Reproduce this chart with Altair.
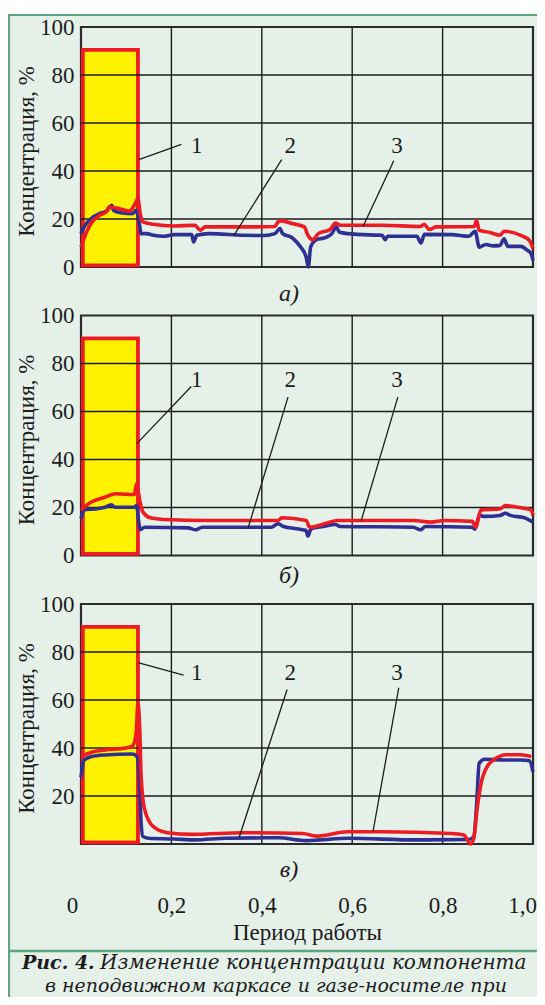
import altair as alt
import pandas as pd

# ---------------- data ----------------
# panel а)
a_blue_x = [0.0, 0.007, 0.022, 0.045, 0.057, 0.068, 0.072, 0.091, 0.114, 0.122, 0.128, 0.133, 0.145, 0.160, 0.183,
            0.206, 0.245, 0.249, 0.256, 0.283, 0.360, 0.406, 0.429, 0.440, 0.446, 0.467, 0.486, 0.498, 0.503, 0.508,
            0.521, 0.540, 0.555, 0.565, 0.571, 0.590, 0.651, 0.666, 0.673, 0.678, 0.743, 0.752, 0.760, 0.820, 0.858,
            0.872, 0.881, 0.896, 0.912, 0.927, 0.936, 0.944, 0.973, 0.988, 0.996, 1.0]
a_blue_y = [13.9, 16.7, 20.1, 22.5, 23.3, 25.7, 23.6, 22.5, 22.2, 23.6, 19.4, 13.9, 13.9, 13.2, 12.8,
            13.5, 13.5, 10.4, 13.2, 13.9, 13.2, 13.1, 13.9, 16.0, 13.9, 12.2, 8.3, 4.2, 0.0, 8.3,
            11.4, 12.2, 13.9, 16.7, 14.6, 13.9, 13.3, 13.2, 11.4, 12.8, 12.8, 10.0, 13.6, 13.5, 12.8,
            14.9, 8.3, 9.4, 8.8, 9.0, 11.8, 8.6, 8.6, 6.9, 5.6, 2.8]
a_red_x = [0.0, 0.011, 0.022, 0.041, 0.057, 0.062, 0.076, 0.107, 0.118, 0.126, 0.131, 0.137, 0.160, 0.206, 0.252,
           0.264, 0.275, 0.360, 0.429, 0.436, 0.444, 0.467, 0.494, 0.502, 0.513, 0.525, 0.551, 0.563, 0.574, 0.666,
           0.751, 0.759, 0.771, 0.785, 0.870, 0.875, 0.881, 0.905, 0.927, 0.936, 0.973, 0.992, 1.0]
a_red_y = [8.3, 13.9, 18.1, 21.5, 23.2, 25.0, 24.7, 23.3, 25.7, 28.5, 22.2, 18.8, 17.8, 17.1, 17.4,
           15.3, 16.7, 16.7, 16.9, 18.8, 19.2, 18.1, 16.7, 13.2, 11.4, 13.9, 15.6, 18.3, 17.4, 17.4,
           16.9, 17.8, 15.6, 16.7, 16.9, 19.4, 15.3, 14.4, 13.2, 14.9, 13.2, 11.1, 7.6]

# panel б)
b_blue_x = [0.0, 0.007, 0.030, 0.053, 0.067, 0.076, 0.118, 0.123, 0.128, 0.131, 0.141, 0.237, 0.254, 0.268, 0.421,
            0.436, 0.448, 0.482, 0.498, 0.502, 0.509, 0.536, 0.563, 0.573, 0.735, 0.751, 0.762, 0.866, 0.872, 0.881,
            0.893, 0.927, 0.939, 0.950, 0.981, 1.0]
b_blue_y = [15.3, 19.0, 19.4, 20.1, 21.1, 20.1, 20.1, 20.8, 13.5, 10.8, 11.8, 11.5, 10.7, 11.8, 11.8,
            13.2, 12.1, 11.0, 10.4, 8.1, 11.1, 12.1, 12.9, 12.1, 11.8, 10.7, 12.1, 11.8, 11.0, 16.7,
            16.3, 16.7, 17.6, 16.7, 15.7, 13.9]
b_red_x = [0.0, 0.022, 0.053, 0.076, 0.118, 0.123, 0.130, 0.137, 0.153, 0.183, 0.283, 0.436, 0.444, 0.498,
           0.506, 0.544, 0.567, 0.735, 0.774, 0.804, 0.866, 0.873, 0.885, 0.927, 0.939, 0.973, 0.996, 1.0]
b_red_y = [19.0, 22.2, 24.3, 25.7, 25.4, 29.9, 22.9, 18.1, 15.7, 15.0, 14.6, 14.6, 15.7, 14.6,
           11.8, 13.5, 14.6, 14.6, 13.9, 14.6, 14.2, 11.8, 19.0, 19.4, 20.8, 19.9, 19.0, 16.7]

# panel в)
c_blue_x = [0.0, 0.007, 0.022, 0.053, 0.114, 0.124, 0.130, 0.133, 0.137, 0.149, 0.206, 0.252, 0.321, 0.436,
            0.498, 0.528, 0.590, 0.743, 0.858, 0.869, 0.875, 0.881, 0.893, 0.935, 0.973, 0.992, 1.0]
c_blue_y = [27.8, 35.0, 36.4, 37.1, 37.5, 36.4, 22.5, 8.6, 3.1, 2.4, 2.1, 1.7, 2.4, 2.6,
            1.4, 1.7, 2.4, 1.7, 1.9, 3.1, 15.6, 33.6, 35.3, 35.0, 35.0, 34.7, 30.1]
c_red_x = [0.0, 0.022, 0.053, 0.099, 0.114, 0.122, 0.126, 0.130, 0.133, 0.141, 0.160, 0.191, 0.245, 0.360,
           0.490, 0.521, 0.590, 0.666, 0.819, 0.847, 0.862, 0.869, 0.877, 0.889, 0.912, 0.942, 0.973, 0.996]
c_red_y = [36.4, 38.1, 39.2, 40.0, 40.8, 46.1, 58.6, 47.5, 28.1, 14.2, 7.2, 4.7, 4.0, 4.7,
           4.4, 3.3, 5.1, 5.1, 4.4, 3.75, 0.0, 2.4, 15.6, 28.1, 35.0, 37.2, 37.2, 36.4]

# curve 1: feed period block (same in all panels)
block_x = [0.004, 0.126]
block_y = [0.7, 90.5]

# leader lines: x1, y1, x2, y2 per curve label 1,2,3
a_leaders = [[0.222, 51.1, 0.128, 44.7], [0.444, 44.7, 0.338, 13.1], [0.692, 44.3, 0.624, 16.9]]
b_leaders = [[0.244, 70.4, 0.123, 46.5], [0.458, 66.0, 0.369, 11.1], [0.701, 66.0, 0.620, 14.6]]
c_leaders = [[0.227, 70.4, 0.126, 75.6], [0.456, 64.4, 0.350, 2.8], [0.703, 65.1, 0.646, 5.1]]
curve_names = ["1", "2", "3"]
label_x = [0.256, 0.463, 0.699]
a_label_y = 50.4
b_label_y = 73.3
c_label_y = 71.1

panel_names = ["а)", "б)", "в)"]
panel_name_x = 0.46
panel_name_y = [-11.1, -8.5, -10.8]

y_ticks_full = [0, 20, 40, 60, 80, 100]
y_ticks_c = [20, 40, 60, 80, 100]
x_ticks = [0, 0.2, 0.4, 0.6, 0.8, 1.0]
x_grid = [0.2, 0.4, 0.6, 0.8]
y_grid = [20, 40, 60, 80]

y_title = "Концентрация, %"
x_title = "Период работы"
caption_bold = "Рис. 4."
caption_1 = "Изменение концентрации компонента"
caption_2 = "в неподвижном каркасе и газе-носителе при"

# ---------------- style ----------------
BLUE = "#2e3192"
RED = "#ed1c24"
YELLOW = "#fff200"
MINT = "#e5f0e9"
GREEN = "#5ea57e"
INK = "#1c1c1c"
SERIF = "Liberation Serif"
CAP_FONT = "DejaVu Serif"
W = 452
H = 240

xs = alt.Scale(domain=[0, 1], nice=False, zero=False)
ys = alt.Scale(domain=[0, 100], nice=False, zero=False)


def make_panel(bx, by, rx, ry, leaders, label_y, idx, y_values, bottom_axis, extra_before=None, extra_after=None):
    yaxis = alt.Axis(values=y_values, title=y_title, labelFont=SERIF, labelFontSize=23, labelColor=INK,
                     labelPadding=7, ticks=False, tickSize=0, domain=False, grid=False,
                     titleFont=SERIF, titleFontSize=23, titleFontWeight="normal", titleColor=INK,
                     titleX=-55, titleY=124, titleAngle=270, titleBaseline="middle", titleAlign="center")
    if bottom_axis:
        xaxis = alt.Axis(values=x_ticks,
                         labelExpr="datum.value == 0 ? '0' : replace(format(datum.value, '.1f'), '.', ',')",
                         labelFont=SERIF, labelFontSize=23, labelColor=INK, labelPadding=61,
                         labelBaseline="middle", labelFlush=False, labelOverlap=False,
                         labelOffset={"condition": [{"test": "datum.value == 0", "value": -9},
                                                    {"test": "datum.value == 1", "value": -11}],
                                      "value": 0},
                         ticks=False, tickSize=0, domain=False, grid=False,
                         title=x_title, titleFont=SERIF, titleFontSize=23, titleFontWeight="normal",
                         titleColor=INK, titleY=88, titleBaseline="middle")
    else:
        xaxis = None

    def X(f):
        return alt.X(f, type="quantitative", scale=xs, axis=xaxis)

    def Y(f):
        return alt.Y(f, type="quantitative", scale=ys, axis=yaxis)

    rect_df = pd.DataFrame({"x0": [block_x[0]], "x1": [block_x[1]], "y0": [block_y[0]], "y1": [block_y[1]]})
    block = alt.Chart(rect_df).mark_rect(fill=YELLOW, stroke=RED, strokeWidth=3.8).encode(
        x=X("x0"), x2=alt.X2("x1"), y=Y("y0"), y2=alt.Y2("y1"))
    vgrid = alt.Chart(pd.DataFrame({"g": x_grid})).mark_rule(color=INK, strokeWidth=1.4).encode(x=X("g"))
    hgrid = alt.Chart(pd.DataFrame({"g": y_grid})).mark_rule(color=INK, strokeWidth=1.4).encode(y=Y("g"))
    blue = alt.Chart(pd.DataFrame({"x": bx, "y": by})).mark_line(
        color=BLUE, strokeWidth=3.6, interpolate="monotone").encode(x=X("x"), y=Y("y"))
    red = alt.Chart(pd.DataFrame({"x": rx, "y": ry})).mark_line(
        color=RED, strokeWidth=3.6, interpolate="monotone").encode(x=X("x"), y=Y("y"))
    lead_df = pd.DataFrame(leaders, columns=["x1", "y1", "x2", "y2"])
    lead = alt.Chart(lead_df).mark_rule(color=INK, strokeWidth=1.3).encode(
        x=X("x1"), y=Y("y1"), x2=alt.X2("x2"), y2=alt.Y2("y2"))
    lab_df = pd.DataFrame({"x": label_x, "y": [label_y] * 3, "t": curve_names})
    labs = alt.Chart(lab_df).mark_text(font=SERIF, fontSize=23, color=INK).encode(
        x=X("x"), y=Y("y"), text="t:N")
    pn_df = pd.DataFrame({"x": [panel_name_x], "y": [panel_name_y[idx]], "t": [panel_names[idx]]})
    pname = alt.Chart(pn_df).mark_text(font=SERIF, fontSize=24, fontStyle="italic", color=INK).encode(
        x=X("x"), y=Y("y"), text="t:N")

    layers = []
    if extra_before:
        layers += extra_before
    layers += [block, vgrid, hgrid, blue, red, lead, labs, pname]
    if extra_after:
        layers += extra_after
    return alt.layer(*layers).properties(width=W, height=H)


# decorations: page frame (drawn in panel a coordinates)
one = pd.DataFrame({"k": [0]})
top_strip = alt.Chart(one).mark_rect(fill="white").encode(
    x=alt.value(-73), x2=alt.value(456), y=alt.value(-19), y2=alt.value(-13))
frame_top = alt.Chart(one).mark_rule(color=GREEN, strokeWidth=2.2).encode(
    x=alt.value(-73), x2=alt.value(456), y=alt.value(-12))
frame_left = alt.Chart(one).mark_rule(color=GREEN, strokeWidth=2.2).encode(
    x=alt.value(-72), y=alt.value(-12), y2=alt.value(975))
frame_sep = alt.Chart(one).mark_rule(color=GREEN, strokeWidth=2.6).encode(
    x=alt.value(-73), x2=alt.value(456), y=alt.value(924))

cap_b = alt.Chart(pd.DataFrame({"t": [caption_bold]})).mark_text(
    font=CAP_FONT, fontSize=19, fontStyle="italic", fontWeight="bold", color=INK, align="left",
    baseline="middle").encode(x=alt.value(-59), y=alt.value(359), text="t:N")
cap_1 = alt.Chart(pd.DataFrame({"t": [caption_1]})).mark_text(
    font=CAP_FONT, fontSize=20, fontStyle="italic", color=INK, align="left",
    baseline="middle").encode(x=alt.value(19), y=alt.value(359), text="t:N")
cap_2 = alt.Chart(pd.DataFrame({"t": [caption_2]})).mark_text(
    font=CAP_FONT, fontSize=19, fontStyle="italic", color=INK, align="center",
    baseline="middle").encode(x=alt.value(195), y=alt.value(382), text="t:N")

pa = make_panel(a_blue_x, a_blue_y, a_red_x, a_red_y, a_leaders, a_label_y, 0, y_ticks_full, False,
                extra_before=[top_strip, frame_top, frame_left, frame_sep])
pb = make_panel(b_blue_x, b_blue_y, b_red_x, b_red_y, b_leaders, b_label_y, 1, y_ticks_full, False)
pc = make_panel(c_blue_x, c_blue_y, c_red_x, c_red_y, c_leaders, c_label_y, 2, y_ticks_c, True,
                extra_after=[cap_b, cap_1, cap_2])

# fixed canvas 529 x 989 (fits the page body); plot origin at page (81, 27)
# Vega view width = 452 (shared column width), view height = 0 for this layout
chart = alt.vconcat(pa, pb, pc, spacing=48.5, bounds="flush").properties(
    autosize=alt.AutoSizeParams(type="none"),
    padding={"left": 73, "top": 19, "right": 4, "bottom": 970},
    background=MINT,
).configure_view(stroke="#2b2b2b", strokeWidth=2.2)

chart.save("out.html", embed_options={"renderer": "svg", "actions": False})
